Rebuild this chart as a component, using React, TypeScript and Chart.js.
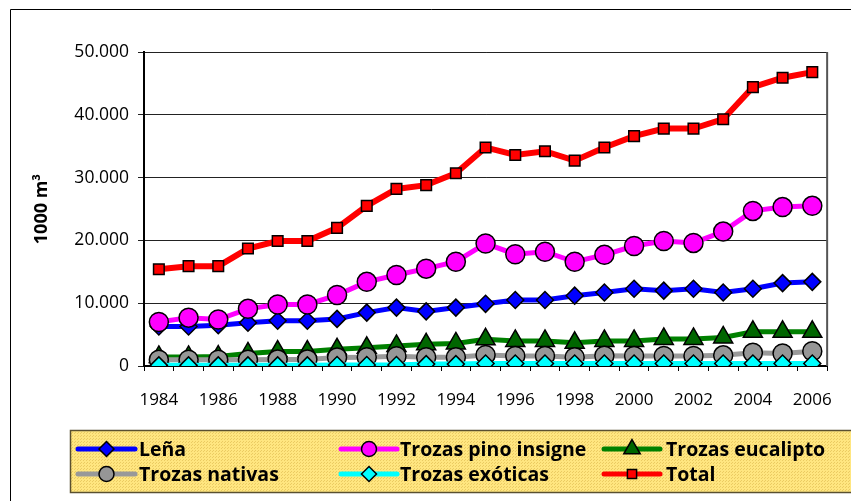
import { useEffect, useRef } from 'react';
import { Chart, registerables } from 'chart.js';
Chart.register(...registerables);

const years = ['1984','1985','1986','1987','1988','1989','1990','1991','1992','1993','1994','1995','1996','1997','1998','1999','2000','2001','2002','2003','2004','2005','2006'];
const lena = [6300, 6300, 6500, 6900, 7200, 7200, 7500, 8500, 9300, 8700, 9300, 9900, 10500, 10500, 11200, 11700, 12300, 12000, 12300, 11700, 12300, 13200, 13400];
const pino = [7000, 7700, 7400, 9100, 9800, 9800, 11300, 13400, 14500, 15500, 16600, 19500, 17800, 18200, 16600, 17700, 19100, 19900, 19600, 21400, 24700, 25300, 25500];
const eucalipto = [1450, 1450, 1500, 2000, 2300, 2300, 2650, 2900, 3200, 3450, 3600, 4250, 4000, 4000, 3700, 4000, 4000, 4300, 4300, 4550, 5450, 5450, 5450];
const nativas = [1000, 1000, 1000, 1000, 1050, 1050, 1350, 1400, 1550, 1400, 1400, 1750, 1600, 1600, 1400, 1650, 1600, 1600, 1600, 1700, 2100, 2000, 2350];
const exoticas = [100, 100, 100, 100, 100, 100, 150, 150, 150, 300, 300, 400, 400, 400, 400, 400, 400, 400, 400, 400, 400, 400, 400];
const total = [15400, 15900, 15900, 18700, 19900, 19900, 22000, 25500, 28200, 28800, 30700, 34800, 33600, 34200, 32700, 34800, 36600, 37800, 37800, 39300, 44400, 45900, 46800];

const seriesLabels = ['Leña', 'Trozas pino insigne', 'Trozas eucalipto', 'Trozas nativas', 'Trozas exóticas', 'Total'];
const yTicks = [0, 10000, 20000, 30000, 40000, 50000];

const FONT = '"Open Sans", Lato, sans-serif';

type Style = { line: string; fill: string; shape: string; r: number; lr: number; lw: number };
const styles: Style[] = [
  { line: '#0000FF', fill: '#0000FF', shape: 'rectRot', r: 8.5, lr: 7.5, lw: 5 },
  { line: '#FF00FF', fill: '#FF00FF', shape: 'circle', r: 9.5, lr: 7.5, lw: 5 },
  { line: '#008000', fill: '#006600', shape: 'triangle', r: 11, lr: 9.5, lw: 5 },
  { line: '#999999', fill: '#969696', shape: 'circle', r: 9.5, lr: 7.5, lw: 5 },
  { line: '#00FFFF', fill: '#00FFFF', shape: 'rectRot', r: 8.5, lr: 7.5, lw: 5 },
  { line: '#FF0000', fill: '#FF0000', shape: 'rect', r: 7.5, lr: 6.5, lw: 6 },
];

function fmt(v: number) {
  const s = Math.round(v).toString();
  return s.replace(/\B(?=(\d{3})+(?!\d))/g, '.');
}

function drawMarker(ctx: CanvasRenderingContext2D, shape: string, x: number, y: number, r: number, fill: string) {
  ctx.beginPath();
  if (shape === 'circle') {
    ctx.arc(x, y, r, 0, Math.PI * 2);
  } else if (shape === 'rectRot') {
    ctx.moveTo(x - r, y); ctx.lineTo(x, y - r); ctx.lineTo(x + r, y); ctx.lineTo(x, y + r);
  } else if (shape === 'rect') {
    const s = r * Math.SQRT1_2;
    ctx.rect(x - s, y - s, 2 * s, 2 * s);
  } else if (shape === 'triangle') {
    ctx.moveTo(x, y - r);
    ctx.lineTo(x + r * 0.866, y + r / 2);
    ctx.lineTo(x - r * 0.866, y + r / 2);
  }
  ctx.closePath();
  ctx.fillStyle = fill;
  ctx.fill();
  ctx.lineWidth = 1.5;
  ctx.strokeStyle = '#000';
  ctx.stroke();
}

const decorPlugin = {
  id: 'decor',
  afterDraw(chart: any) {
    const ctx: CanvasRenderingContext2D = chart.ctx;
    const ca = chart.chartArea;
    ctx.save();
    // right border of plot area
    ctx.strokeStyle = '#555';
    ctx.lineWidth = 2;
    ctx.beginPath();
    ctx.moveTo(ca.right, ca.top);
    ctx.lineTo(ca.right, ca.bottom);
    ctx.stroke();
    // outer border
    ctx.strokeStyle = '#000';
    ctx.lineWidth = 1;
    ctx.beginPath();
    ctx.moveTo(10.5, 520);
    ctx.lineTo(10.5, 9.5);
    ctx.lineTo(860, 9.5);
    ctx.stroke();

    // legend box
    const pc = document.createElement('canvas');
    pc.width = 3; pc.height = 3;
    const pctx = pc.getContext('2d')!;
    pctx.fillStyle = '#FFE680';
    pctx.fillRect(0, 0, 3, 3);
    pctx.fillStyle = '#EBCB62';
    pctx.fillRect(0, 0, 1, 1);
    pctx.fillRect(2, 1, 1, 1);
    const pat = ctx.createPattern(pc, 'repeat');
    const bx = 70.5, by = 430.5, bw = 800, bh = 62;
    ctx.fillStyle = pat || '#FFE680';
    ctx.fillRect(bx, by, bw, bh);
    ctx.strokeStyle = '#5A5030';
    ctx.lineWidth = 1.5;
    ctx.strokeRect(bx, by, bw, bh);

    const colLineStart = [78, 341, 604];
    const colLineEnd = [135, 397, 660];
    const colText = [139, 400, 666];
    const rowY = [449, 474];
    [0, 1, 2, 3, 4, 5].forEach((i) => {
      const col = i % 3;
      const row = Math.floor(i / 3);
      const st = styles[i];
      const y = rowY[row];
      ctx.strokeStyle = st.line;
      ctx.lineWidth = 5;
      ctx.lineCap = 'round';
      ctx.beginPath();
      ctx.moveTo(colLineStart[col], y);
      ctx.lineTo(colLineEnd[col], y);
      ctx.stroke();
      ctx.lineCap = 'butt';
      const mx = (colLineStart[col] + colLineEnd[col]) / 2;
      drawMarker(ctx, st.shape, mx, y, st.lr, st.fill);
      ctx.fillStyle = '#000';
      ctx.font = `bold 19.5px ${FONT}`;
      ctx.textBaseline = 'middle';
      ctx.textAlign = 'left';
      ctx.fillText(seriesLabels[i], colText[col], y + 1);
    });
    ctx.restore();
  },
};

export default function App() {
  const ref = useRef<HTMLCanvasElement>(null);
  useEffect(() => {
    document.body.style.margin = '0';
    const dataArrays = [lena, pino, eucalipto, nativas, exoticas, total];
    const chart = new Chart(ref.current!, {
      type: 'line',
      data: {
        labels: years,
        datasets: dataArrays.map((d, i) => ({
          label: seriesLabels[i],
          data: d,
          borderColor: styles[i].line,
          backgroundColor: styles[i].fill,
          borderWidth: styles[i].lw,
          pointStyle: styles[i].shape as any,
          pointRadius: styles[i].r,
          pointHoverRadius: styles[i].r,
          pointBackgroundColor: styles[i].fill,
          pointBorderColor: '#000',
          pointBorderWidth: 1.5,
          tension: 0,
          fill: false,
          order: 6 - i,
        })),
      },
      options: {
        animation: false,
        responsive: false,
        maintainAspectRatio: false,
        events: [],
        layout: { padding: { left: 0, top: 52, right: 7, bottom: 85 } },
        plugins: {
          legend: { display: false },
          tooltip: { enabled: false },
        },
        scales: {
          x: {
            type: 'category',
            offset: true,
            grid: {
              offset: true,
              drawOnChartArea: false,
              drawTicks: true,
              tickLength: 5,
              color: '#000',
            },
            border: { color: '#000', width: 2 },
            ticks: {
              autoSkip: false,
              maxRotation: 0,
              minRotation: 0,
              padding: 19,
              color: '#000',
              font: { family: FONT, size: 17 },
              callback: (_v: any, i: number) => (i % 2 === 0 ? years[i] : ''),
            },
            afterFit: (s: any) => { s.height = 50; },
          },
          y: {
            min: 0,
            max: 50000,
            afterBuildTicks: (s: any) => { s.ticks = yTicks.map((v) => ({ value: v })); },
            grid: { color: '#222', lineWidth: 1, tickLength: 6, drawTicks: true },
            border: { color: '#000', width: 2 },
            ticks: {
              padding: 9,
              color: '#000',
              font: { family: FONT, size: 17.5 },
              callback: (v: any) => fmt(Number(v)),
            },
            title: {
              display: true,
              text: '1000 m³',
              color: '#000',
              font: { family: FONT, size: 18, weight: 'bold' },
              padding: { top: 31, bottom: 0 },
            },
            afterFit: (s: any) => { s.width = 144; },
          },
        },
      },
      plugins: [decorPlugin],
    });
    return () => chart.destroy();
  }, []);
  return (
    <div style={{ position: 'relative', width: 851, height: 501, background: '#fff', overflow: 'hidden' }}>
      <canvas ref={ref} width={851} height={501} style={{ width: 851, height: 501, display: 'block' }} />
    </div>
  );
}
